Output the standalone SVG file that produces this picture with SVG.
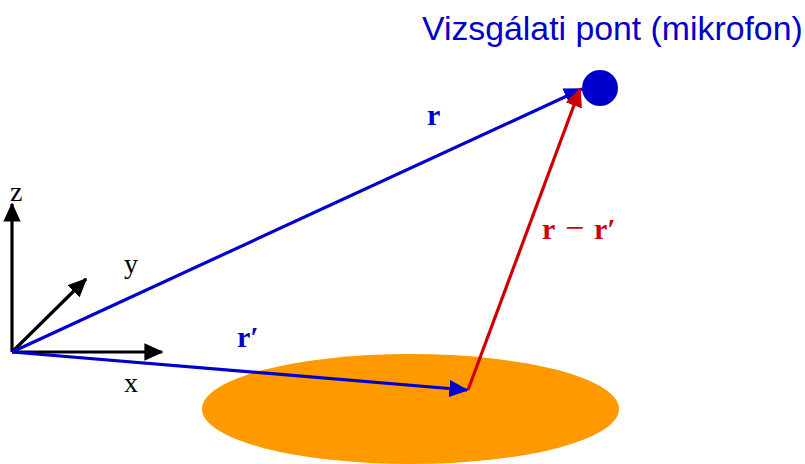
<svg xmlns="http://www.w3.org/2000/svg" width="805" height="464" viewBox="0 0 805 464">
<style>
.ax{stroke:#000;stroke-width:3.2;fill:none}
.bl{stroke:#0000CC;stroke-width:3.2;fill:none}
.rd{stroke:#CC0000;stroke-width:3.2;fill:none}
.lbl{font-family:"Liberation Serif",serif;font-size:28px}
.vec{font-family:"Liberation Serif",serif;font-size:30px;font-weight:bold}
</style>
<defs>
<marker id="ak" markerWidth="6" markerHeight="6" refX="5.5" refY="3" orient="auto" markerUnits="strokeWidth"><path d="M0,0.3 L6,3 L0,5.7 Z" fill="#000"/></marker>
<marker id="ab" markerWidth="6" markerHeight="6" refX="5.5" refY="3" orient="auto" markerUnits="strokeWidth"><path d="M0,0.3 L6,3 L0,5.7 Z" fill="#0000CC"/></marker>
<marker id="ar" markerWidth="6" markerHeight="6" refX="5.5" refY="3" orient="auto" markerUnits="strokeWidth"><path d="M0,0.3 L6,3 L0,5.7 Z" fill="#CC0000"/></marker>
</defs>
<g id="source"><ellipse cx="410.5" cy="409" rx="208.5" ry="55" fill="#FF9900"/></g>
<g id="mic"><circle cx="600" cy="88" r="18" fill="#0000CC"/></g>
<g id="title"><text x="422" y="40" font-family="Liberation Sans,Arial,sans-serif" font-size="33.8" fill="#0000CC">Vizsgálati pont (mikrofon)</text></g>
<g id="axes">
<line class="ax" x1="12" y1="352" x2="12" y2="204" marker-end="url(#ak)"/>
<line class="ax" x1="12" y1="352" x2="162" y2="352" marker-end="url(#ak)"/>
<line class="ax" x1="12" y1="352" x2="86" y2="279" marker-end="url(#ak)"/>
<text class="lbl" x="10" y="201">z</text>
<text class="lbl" x="124" y="273">y</text>
<text class="lbl" x="124" y="392">x</text>
</g>
<g id="connectors">
<line class="bl" x1="12" y1="352" x2="582" y2="89" marker-end="url(#ab)"/>
<line class="bl" x1="12" y1="352" x2="467" y2="390" marker-end="url(#ab)"/>
<line class="rd" x1="468" y1="390" x2="580" y2="89" marker-end="url(#ar)"/>
</g>
<g id="labels">
<text class="vec" x="427" y="125" fill="#0000CC">r</text>
<text class="vec" x="237" y="347" fill="#0000CC">r′</text>
<text class="vec" y="239" fill="#CC0000"><tspan x="542">r</tspan><tspan x="565" font-weight="normal" font-size="34">−</tspan><tspan x="594">r′</tspan></text>
</g>
</svg>
